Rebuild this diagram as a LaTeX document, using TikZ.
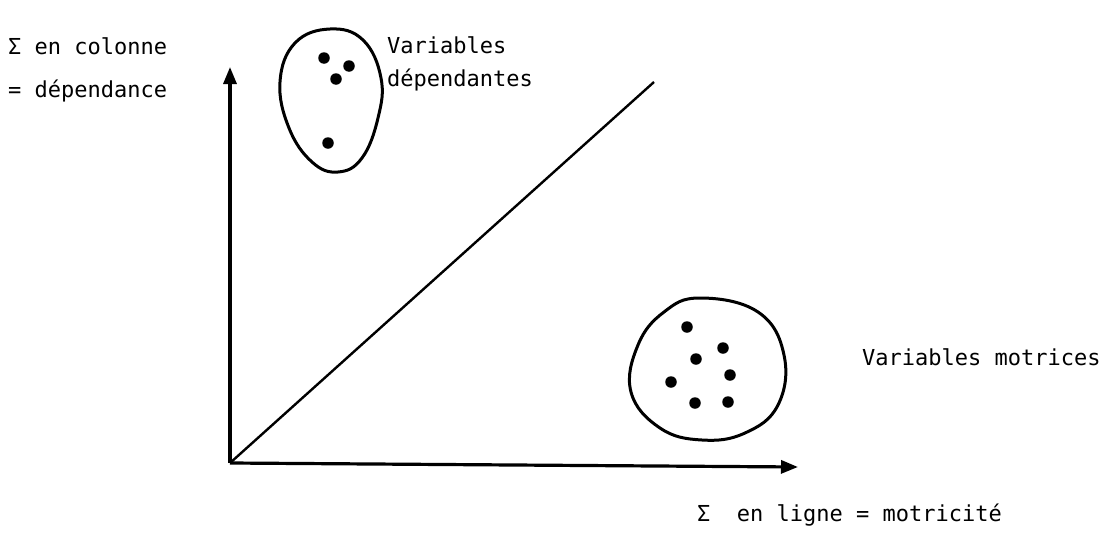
\documentclass[tikz,border=0pt]{standalone}
\usepackage{fontspec}
\setmonofont{DejaVu Sans Mono}
\usetikzlibrary{arrows.meta}
\begin{document}
\begin{tikzpicture}[x=1pt,y=-1pt,
  lbl/.style={font=\ttfamily\fontsize{22}{26}\selectfont, anchor=base west, inner sep=0pt},
  dot/.style={circle, fill=black, inner sep=0pt, minimum size=11.5pt},
  axis/.style={line width=3.2pt, -{Triangle[length=17pt,width=13pt]}},
  blob/.style={line width=3pt}]
\useasboundingbox (0,0) rectangle (1109,536);
\coordinate (O) at (230,463);
\coordinate (Y) at (230,67);
\coordinate (X) at (798,467);
\coordinate (D) at (654,82);
\draw[axis] (O) -- (Y);
\draw[axis] (O) -- (X);
\draw[line width=2.4pt] (O) -- (D);
% blob 1
\draw[blob] plot[smooth cycle, tension=0.7] coordinates {(330,29) (363,40) (381,78) (378,118) (362,158) (338,172) (312,162) (289,128) (280,82) (295,43)};
\node[dot] (d1) at (324,58) {};
\node[dot] (d2) at (349,66) {};
\node[dot] (d3) at (336,79) {};
\node[dot] (d4) at (328,143) {};
% blob 2
\draw[blob] plot[smooth cycle, tension=0.7] coordinates {(700,298) (758,312) (784,355) (778,405) (745,433) (702,440) (660,428) (631,392) (638,345) (664,312)};
\node[dot] (e1) at (687,327) {};
\node[dot] (e2) at (723,348) {};
\node[dot] (e3) at (696,359) {};
\node[dot] (e4) at (730,375) {};
\node[dot] (e5) at (671,382) {};
\node[dot] (e6) at (695,403) {};
\node[dot] (e7) at (728,402) {};
% labels
\node[lbl] (t1) at (8,54) {Σ en colonne};
\node[lbl] (t2) at (8,97) {= dépendance};
\node[lbl] (t3) at (387,53) {Variables};
\node[lbl] (t4) at (387,86) {dépendantes};
\node[lbl] (t5) at (862,365) {Variables motrices};
\node[lbl] (t6) at (697,521) {Σ\ \ en ligne = motricité};
\end{tikzpicture}
\end{document}
